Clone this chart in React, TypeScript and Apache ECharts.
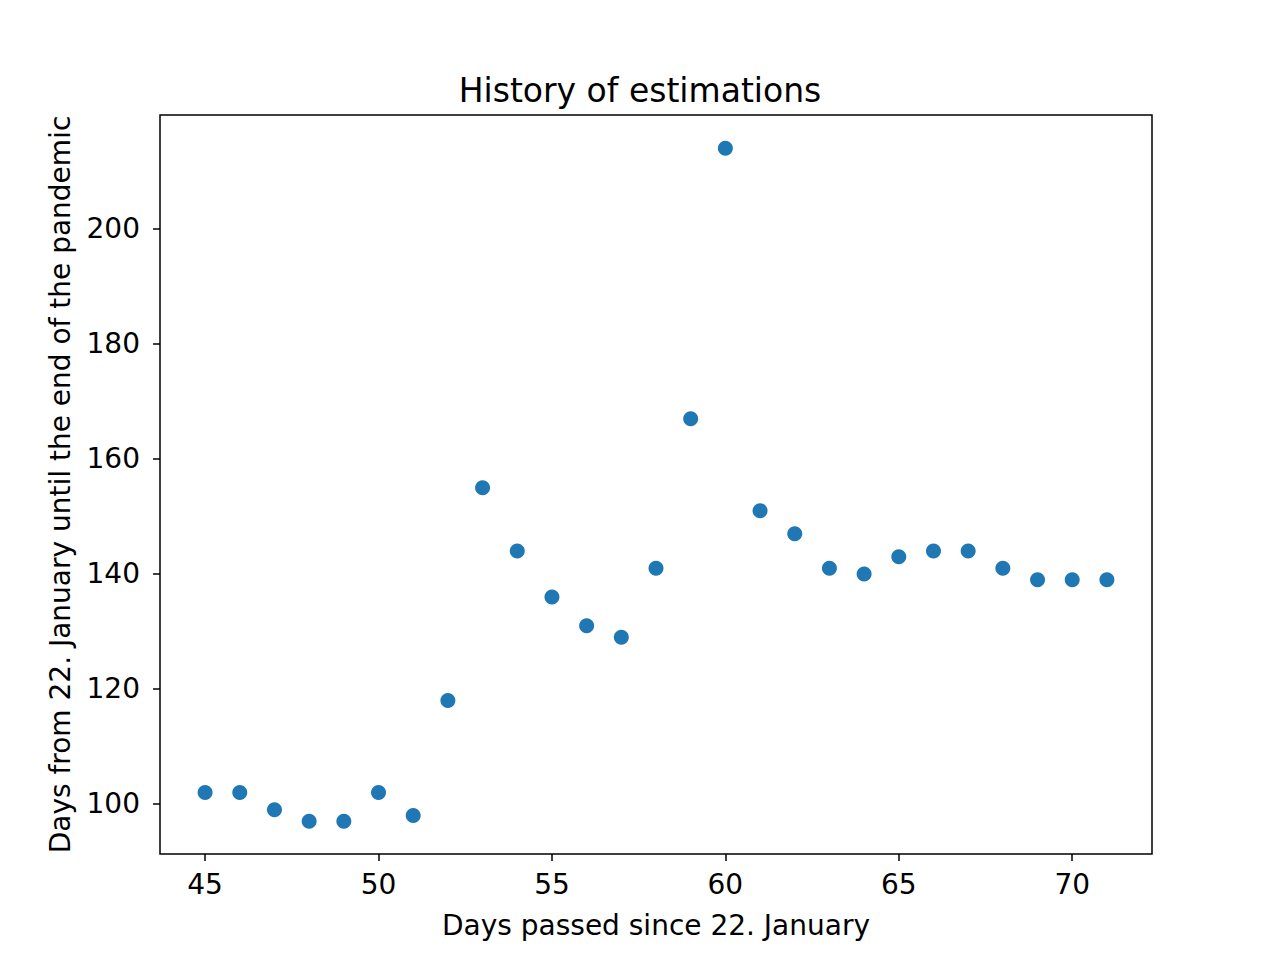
import { useEffect, useRef } from 'react';
import * as echarts from 'echarts';

const days = [45, 46, 47, 48, 49, 50, 51, 52, 53, 54, 55, 56, 57, 58, 59, 60, 61, 62, 63, 64, 65, 66, 67, 68, 69, 70, 71];
const estimates = [102, 102, 99, 97, 97, 102, 98, 118, 155, 144, 136, 131, 129, 141, 167, 214, 151, 147, 141, 140, 143, 144, 144, 141, 139, 139, 139];
const xTicks = [45, 50, 55, 60, 65, 70];
const yTicks = [100, 120, 140, 160, 180, 200];

const font = 'DejaVu Sans';

export default function App() {
  const ref = useRef<HTMLDivElement>(null);

  useEffect(() => {
    if (!ref.current) return;
    const chart = echarts.init(ref.current, null, { renderer: 'svg' });
    chart.setOption({
      animation: false,
      backgroundColor: '#fff',
      textStyle: { fontFamily: font },
      title: {
        text: 'History of estimations',
        left: 'center',
        top: 69,
        textStyle: { fontFamily: font, fontSize: 33, fontWeight: 'normal', color: '#000' },
      },
      grid: {
        left: 160, right: 128, top: 115, bottom: 106,
        show: true, borderColor: '#000', borderWidth: 1.5,
      },
      xAxis: {
        type: 'value',
        min: 43.7,
        max: 72.3,
        name: 'Days passed since 22. January',
        nameLocation: 'middle',
        nameGap: 57,
        nameTextStyle: { fontSize: 28, color: '#000' },
        axisLine: { show: false },
        axisTick: { show: true, length: 7, customValues: xTicks, lineStyle: { color: '#000', width: 1.5 } },
        axisLabel: { customValues: xTicks, fontSize: 28, color: '#000', margin: 16 },
        splitLine: { show: false },
      },
      yAxis: {
        type: 'value',
        min: 91.3,
        max: 219.8,
        name: 'Days from 22. January until the end of the pandemic',
        nameLocation: 'middle',
        nameGap: 86,
        nameTextStyle: { fontSize: 28, color: '#000' },
        axisLine: { show: false },
        axisTick: { show: true, length: 7, customValues: yTicks, lineStyle: { color: '#000', width: 1.5 } },
        axisLabel: { customValues: yTicks, fontSize: 28, color: '#000', margin: 20 },
        splitLine: { show: false },
      },
      series: [
        {
          type: 'scatter',
          symbolSize: 15,
          itemStyle: { color: '#1f77b4', opacity: 1 },
          data: days.map((d, i) => [d, estimates[i]]),
        },
      ],
    });
    return () => chart.dispose();
  }, []);

  return (
    <div
      ref={ref}
      style={{ position: 'absolute', left: 0, top: 0, width: 1280, height: 960 }}
    />
  );
}
